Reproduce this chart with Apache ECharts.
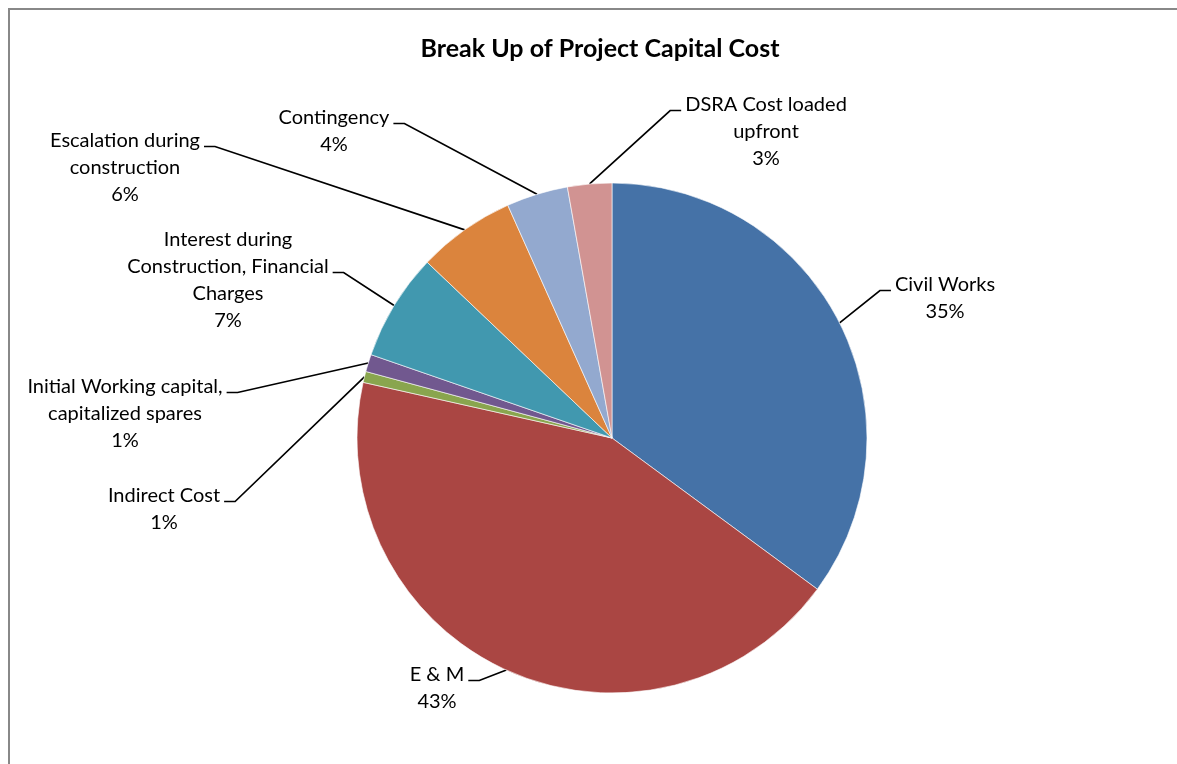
<!DOCTYPE html>
<html>
<head>
<meta charset="utf-8">
<script src="https://cdn.jsdelivr.net/npm/echarts@6/dist/echarts.min.js"></script>
<style>
  html, body { margin: 0; padding: 0; background: #ffffff; }
  #chart { width: 1177px; height: 764px; }
</style>
</head>
<body>
<div id="chart"></div>
<script>
// Cost heads, in clockwise order from 12 o'clock
const categories = [
  'Civil Works',
  'E & M',
  'Indirect Cost',
  'Initial Working capital,\ncapitalized spares',
  'Interest during\nConstruction, Financial\nCharges',
  'Escalation during\nconstruction',
  'Contingency',
  'DSRA Cost loaded\nupfront'
];

// Share of the project capital cost (%)
const shares = [35.1, 43.4, 0.7, 1.1, 6.8, 6.2, 3.9, 2.8];

const sliceColors = ['#4572A7', '#AA4643', '#89A54E', '#71588F', '#4198AF', '#DB843D', '#93A9CF', '#D19392'];

// Where each label sits: centre x, top y of the text block,
// the edge its leader line joins, and the text line it joins at.
const labelPlacement = [
  { x: 945, y: 271, joins: 'left',  line: 0 },
  { x: 437, y: 661, joins: 'right', line: 0 },
  { x: 164, y: 482, joins: 'right', line: 0 },
  { x: 125, y: 373, joins: 'right', line: 0 },
  { x: 228, y: 226, joins: 'right', line: 1 },
  { x: 125, y: 127, joins: 'right', line: 0 },
  { x: 334, y: 104, joins: 'right', line: 0 },
  { x: 766, y: 91,  joins: 'left',  line: 0 }
];

const FONT = 'Lato, "Noto Sans", sans-serif';
const LINE_H = 27;

const chart = echarts.init(document.getElementById('chart'), null, { renderer: 'canvas' });

chart.setOption({
  animation: false,
  backgroundColor: '#ffffff',
  // chart-area frame: only its left and top edges fall inside the page
  graphic: [{
    type: 'polyline',
    silent: true,
    z: -1,
    shape: { points: [[9, 780], [9, 9], [1190, 9]] },
    style: { fill: 'none', stroke: '#888888', lineWidth: 2 }
  }],
  title: {
    text: 'Break Up of Project Capital Cost',
    left: 595,
    top: 31,
    textAlign: 'center',
    textStyle: { fontFamily: FONT, fontSize: 25, fontWeight: 'bold', color: '#000000' }
  },
  series: [{
    type: 'pie',
    center: [612, 438],
    radius: 255,
    startAngle: 90,
    clockwise: true,
    avoidLabelOverlap: false,
    emphasis: { disabled: true },
    itemStyle: { borderColor: '#ffffff', borderWidth: 0.6 },
    data: categories.map((name, i) => ({
      name: name,
      value: shares[i],
      itemStyle: { color: sliceColors[i] }
    })),
    label: {
      show: true,
      position: 'outside',
      formatter: p => p.name + '\n' + Math.round(p.percent) + '%',
      fontFamily: FONT,
      fontSize: 20,
      lineHeight: LINE_H,
      color: '#000000'
    },
    labelLine: {
      show: true,
      length: 10,
      length2: 10,
      smooth: false,
      lineStyle: { color: '#000000', width: 1.7 }
    },
    labelLayout: function (params) {
      const spot = labelPlacement[params.dataIndex];
      const w = params.labelRect.width;
      const dir = spot.joins === 'left' ? -1 : 1;
      const endX = spot.x + dir * (w / 2 + 4);
      const endY = spot.y + LINE_H * spot.line + LINE_H / 2 + 6;
      const out = { x: spot.x, y: spot.y, align: 'center', verticalAlign: 'top' };
      const pts = params.labelLinePoints;
      if (pts && pts[0]) {
        out.labelLinePoints = [
          [pts[0][0], pts[0][1]],
          [endX + dir * 11, endY],
          [endX, endY]
        ];
      }
      return out;
    }
  }]
});
</script>
</body>
</html>
